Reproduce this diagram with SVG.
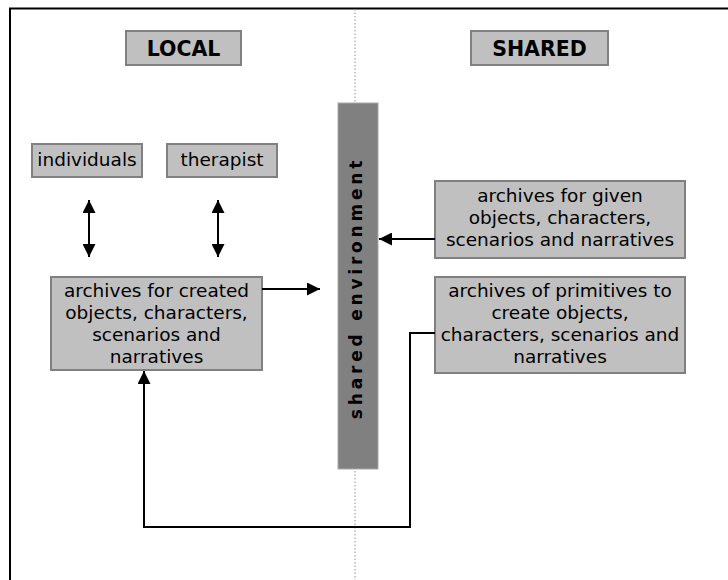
<svg xmlns="http://www.w3.org/2000/svg" width="728" height="580" viewBox="0 0 728 580">
<defs>
<style>
.box{fill:#c0c0c0;stroke:#808080;stroke-width:2}
.t{font-family:"DejaVu Sans",Verdana,sans-serif;font-size:18.5px;fill:#000;text-anchor:middle}
.h{font-family:"DejaVu Sans",Verdana,sans-serif;font-size:20.5px;font-weight:bold;fill:#000;text-anchor:middle}
.c{fill:none;stroke:#000;stroke-width:2}
</style>
<marker id="ah" markerUnits="userSpaceOnUse" markerWidth="13" markerHeight="13" refX="13" refY="6.5" orient="auto-start-reverse" viewBox="0 0 13 13">
<path d="M0,0 L13,6.5 L0,13 z" fill="#000"/>
</marker>
</defs>
<rect width="728" height="580" fill="#fff"/>
<path d="M10,580 V8.5 H728" fill="none" stroke="#000" stroke-width="2"/>
<line x1="355" y1="9" x2="355" y2="580" stroke="#909090" stroke-width="1" stroke-dasharray="1.5,2"/>

<g id="local">
<rect class="box" x="126" y="31" width="115" height="34"/>
<text class="h" x="183.5" y="55.5">LOCAL</text>
</g>
<g id="shared">
<rect class="box" x="471" y="31" width="137" height="34"/>
<text class="h" x="539.5" y="55.5">SHARED</text>
</g>
<g id="individuals">
<rect class="box" x="32" y="144" width="110" height="33"/>
<text class="t" x="87" y="166">individuals</text>
</g>
<g id="therapist">
<rect class="box" x="167" y="144" width="110" height="33"/>
<text class="t" x="222" y="166">therapist</text>
</g>
<g id="created">
<rect class="box" x="51" y="277" width="211" height="93"/>
<text class="t" x="156.5" y="297">archives for created</text>
<text class="t" x="156.5" y="319">objects, characters,</text>
<text class="t" x="156.5" y="341">scenarios and</text>
<text class="t" x="156.5" y="363">narratives</text>
</g>
<g id="given">
<rect class="box" x="435" y="181" width="250" height="77"/>
<text class="t" x="560" y="202">archives for given</text>
<text class="t" x="560" y="224">objects, characters,</text>
<text class="t" x="560" y="246">scenarios and narratives</text>
</g>
<g id="primitives">
<rect class="box" x="435" y="277" width="250" height="96"/>
<text class="t" x="560" y="297">archives of primitives to</text>
<text class="t" x="560" y="319">create objects,</text>
<text class="t" x="560" y="341">characters, scenarios and</text>
<text class="t" x="560" y="363">narratives</text>
</g>
<g id="environment">
<rect x="338" y="103" width="40" height="366" fill="#808080" stroke="#a8a8a8" stroke-width="1"/>
<text transform="translate(362,288) rotate(-90)" x="0" y="0" font-family="DejaVu Sans,Verdana,sans-serif" font-size="17" font-weight="bold" letter-spacing="3.8" text-anchor="middle" fill="#000">shared environment</text>
</g>

<g id="connectors">
<line class="c" x1="89" y1="200" x2="89" y2="257" marker-start="url(#ah)" marker-end="url(#ah)"/>
<line class="c" x1="218" y1="200" x2="218" y2="257" marker-start="url(#ah)" marker-end="url(#ah)"/>
<line class="c" x1="262" y1="289" x2="320" y2="289" marker-end="url(#ah)"/>
<line class="c" x1="435" y1="239" x2="379" y2="239" marker-end="url(#ah)"/>
<path class="c" d="M435,333 H410 V527 H144 V371" marker-end="url(#ah)"/>
</g>
</svg>
